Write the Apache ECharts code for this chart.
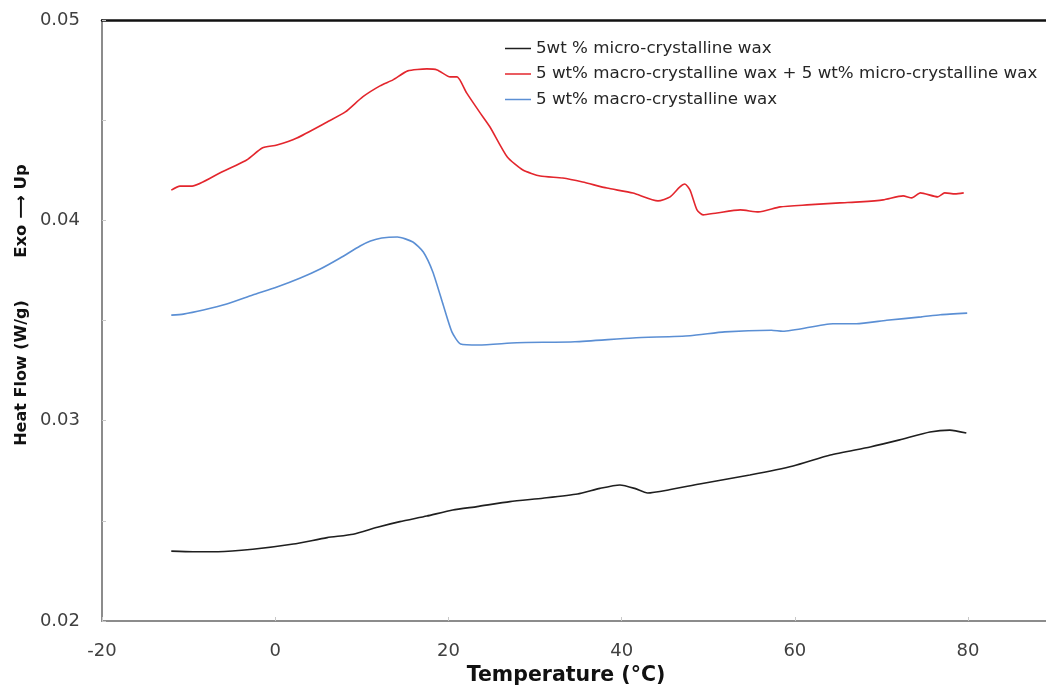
<!DOCTYPE html>
<html>
<head>
<meta charset="utf-8">
<script src="https://cdn.jsdelivr.net/npm/echarts@6/dist/echarts.min.js"></script>
<style>
  html, body { margin: 0; padding: 0; background: #fff; }
  #chart { width: 1046px; height: 691px; }
</style>
</head>
<body>
<div id="chart"></div>
<script>
'use strict';

// temperatures (°C) and heat flow (W/g)
var microT = [-12.0, -9.5, -6.6, -2.6, 2.1, 6.0, 9.0, 11.8, 14.4, 17.5, 20.5, 23.3, 27.1, 30.9, 34.9, 37.5, 39.8, 41.5, 43.0, 45.5, 49.0, 54.8, 59.8, 64.1, 68.7, 72.1, 75.6, 77.9, 79.8];
var microV = [0.02349, 0.02346, 0.02346, 0.02358, 0.02384, 0.02416, 0.02433, 0.02468, 0.02496, 0.02524, 0.02554, 0.02571, 0.02596, 0.02613, 0.02634, 0.02662, 0.02679, 0.02662, 0.02639, 0.02655, 0.02684, 0.02729, 0.02774, 0.02829, 0.02869, 0.02904, 0.02943, 0.02953, 0.02938];

var mixT = [-12.0, -11.0, -9.6, -6.4, -3.3, -1.5, 0.2, 2.5, 6.0, 8.1, 10.1, 12.1, 13.6, 15.3, 17.5, 18.7, 20.2, 21.0, 22.1, 23.6, 24.8, 26.8, 28.6, 30.6, 33.2, 35.5, 38.3, 41.3, 44.2, 45.6, 46.7, 47.3, 47.9, 48.7, 49.4, 51.0, 53.7, 55.8, 58.3, 61.4, 65.2, 67.5, 70.2, 72.5, 73.5, 74.5, 76.5, 77.3, 78.5, 79.5];
var mixV = [0.04151, 0.04171, 0.04171, 0.04236, 0.04301, 0.04361, 0.04376, 0.04411, 0.04491, 0.04541, 0.04616, 0.04671, 0.04701, 0.04746, 0.04756, 0.04751, 0.04716, 0.04716, 0.04636, 0.04540, 0.04466, 0.04316, 0.04251, 0.04221, 0.04211, 0.04191, 0.04161, 0.04136, 0.04097, 0.04117, 0.04166, 0.04181, 0.04151, 0.04052, 0.04027, 0.04037, 0.04052, 0.04042, 0.04067, 0.04077, 0.04087, 0.04092, 0.04102, 0.04122, 0.04112, 0.04137, 0.04117, 0.04137, 0.04132, 0.04137];

var macroT = [-12.0, -10.6, -8.3, -5.6, -2.6, 0.2, 2.9, 5.2, 7.5, 9.8, 11.0, 12.3, 14.1, 15.9, 17.1, 18.2, 19.4, 20.4, 21.4, 23.5, 27.9, 34.6, 41.3, 47.9, 51.9, 57.3, 58.6, 64.4, 67.1, 70.6, 74.6, 76.8, 79.9];
var macroV = [0.03527, 0.03532, 0.03552, 0.03582, 0.03627, 0.03667, 0.03712, 0.03757, 0.03812, 0.03872, 0.03897, 0.03912, 0.03917, 0.03892, 0.03842, 0.03742, 0.03577, 0.03443, 0.03383, 0.03378, 0.03389, 0.03394, 0.03413, 0.03424, 0.03443, 0.03451, 0.03446, 0.03484, 0.03484, 0.03501, 0.03518, 0.03529, 0.03537];

var seriesNames = [
  '5wt % micro-crystalline wax',
  '5 wt% macro-crystalline wax + 5 wt% micro-crystalline wax',
  '5 wt% macro-crystalline wax'
];
var seriesColors = ['#1f1f1f', '#e3262d', '#5b8fd4'];

function pairs(xs, ys) {
  return xs.map(function(x, i) { return [x, ys[i]]; });
}

var font = '"DejaVu Sans", sans-serif';
var chart = echarts.init(document.getElementById('chart'));

function makeSeries(i, data) {
  return {
    name: seriesNames[i],
    type: 'line',
    data: data,
    showSymbol: false,
    smooth: 0.2,
    animation: false,
    color: seriesColors[i],
    lineStyle: { width: 1.6 }
  };
}

function titleText(text, x, y, size, rotated) {
  return {
    type: 'text',
    x: x,
    y: y,
    rotation: rotated ? Math.PI / 2 : 0,
    style: {
      text: text,
      fontFamily: font,
      fontWeight: 'bold',
      fontSize: size,
      fill: '#111',
      align: 'center',
      verticalAlign: 'middle'
    }
  };
}

chart.setOption({
  backgroundColor: '#fff',
  animation: false,
  grid: { left: 102, right: 0, top: 20, bottom: 70 },
  legend: {
    orient: 'vertical',
    left: 505,
    top: 40,
    padding: 0,
    icon: 'rect',
    itemWidth: 26,
    itemHeight: 1.5,
    itemGap: 8.5,
    textStyle: { fontFamily: font, fontSize: 16.7, color: '#262626', lineHeight: 17 },
    data: seriesNames
  },
  xAxis: [{
    type: 'value',
    min: -20,
    max: 89,
    interval: 20,
    axisLine: { onZero: false, lineStyle: { color: '#8c8c8c', width: 2 } },
    axisTick: { inside: true, length: 4, lineStyle: { color: '#c8c8c8' } },
    splitLine: { show: false },
    axisLabel: {
      showMaxLabel: false,
      margin: 21,
      fontFamily: font,
      fontSize: 18,
      color: '#404040'
    }
  }, {
    type: 'value',
    position: 'top',
    min: -20,
    max: 89,
    axisLine: { show: true, onZero: false, lineStyle: { color: '#111', width: 2.5 } },
    axisTick: { show: false },
    axisLabel: { show: false },
    splitLine: { show: false }
  }],
  yAxis: {
    type: 'value',
    min: 0.02,
    max: 0.05,
    interval: 0.005,
    axisLine: { show: true, onZero: false, lineStyle: { color: '#8c8c8c', width: 2 } },
    axisTick: { show: true, inside: true, length: 4, lineStyle: { color: '#c8c8c8' } },
    splitLine: { show: false },
    axisLabel: {
      margin: 22,
      fontFamily: font,
      fontSize: 18,
      color: '#404040',
      formatter: function(v) {
        return Math.round(v * 1000) % 10 === 0 ? v.toFixed(2) : '';
      }
    }
  },
  graphic: [
    titleText('Temperature (°C)', 566, 676, 20.5, false),
    titleText('Heat Flow (W/g)', 22, 373, 16, true),
    titleText('Exo \u27f6 Up', 22, 211, 16.5, true)
  ],
  series: [
    makeSeries(0, pairs(microT, microV)),
    makeSeries(1, pairs(mixT, mixV)),
    makeSeries(2, pairs(macroT, macroV))
  ]
});
</script>
</body>
</html>
